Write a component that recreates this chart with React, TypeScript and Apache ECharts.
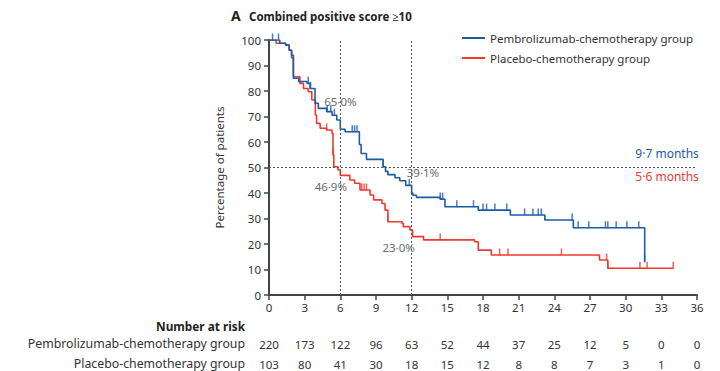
import React, { useEffect, useRef } from "react";
import * as echarts from "echarts";

const pembroName = "Pembrolizumab-chemotherapy group";
const placeboName = "Placebo-chemotherapy group";

// Kaplan-Meier step points [months, % surviving]
const pembroCurve: [number, number][] = [
  [0, 100], [0.9, 98.7], [1.4, 98], [1.7, 96], [1.9, 94], [2.05, 85], [2.5, 83.7],
  [3.2, 83], [3.45, 81], [3.87, 75.2], [4.15, 73.2], [4.85, 71.9], [5.3, 70.5],
  [5.7, 68.6], [6.0, 65], [6.4, 64], [7.6, 59], [7.75, 55.5], [8.2, 53.2],
  [9.6, 50.3], [9.8, 48.5], [10.0, 47.2], [10.6, 46], [11.0, 44.8], [11.5, 43],
  [12.0, 40.0], [12.1, 39.1], [12.4, 38.3], [14.4, 37.6], [14.8, 34.6],
  [17.6, 33.3], [20.3, 31.4], [23.2, 29.4], [25.6, 26.4], [31.6, 13]
];
const placeboCurve: [number, number][] = [
  [0, 100], [0.6, 98.7], [1.4, 98], [1.7, 96], [1.9, 93], [2.05, 85.6], [2.6, 83],
  [2.9, 81], [3.3, 79.7], [3.6, 76.5], [3.9, 70.6], [4.0, 67.3], [4.3, 65.4],
  [4.85, 64.7], [5.3, 63.4], [5.38, 55], [5.45, 50.3], [5.8, 49], [6.0, 46.9],
  [6.8, 45.1], [7.2, 43.8], [7.65, 41.2], [8.5, 39.2], [8.8, 37.3], [9.5, 35.9],
  [9.76, 33.3], [10.0, 28.7], [11.2, 28.1], [11.3, 26.8], [11.86, 25.5],
  [12.07, 22.9], [13.0, 21.6], [17.3, 20.9], [17.6, 17.6], [18.7, 15.7],
  [27.8, 13.7], [28.5, 10.5], [34.0, 10.5]
];

// censoring times (months)
const pembroCensor = [0.3, 0.8, 3.3, 3.5, 4.9, 5.2, 5.5, 7.0, 7.2, 7.4, 9.6, 11.8, 14.4, 14.6,
  15.8, 17.2, 18.0, 18.3, 19.0, 20.0, 21.5, 22.2, 22.65, 22.9, 25.5, 26.0, 26.9, 28.3, 28.5,
  29.2, 30.1, 31.1, 31.6];
const placeboCensor = [4.85, 5.4, 7.8, 8.0, 8.2, 10.0, 14.4, 19.4, 20.1, 24.6, 28.4, 28.5,
  31.2, 31.8, 34.0];

const xTicks = [0, 3, 6, 9, 12, 15, 18, 21, 24, 27, 30, 33, 36];
const pembroAtRisk = [220, 173, 122, 96, 63, 52, 44, 37, 25, 12, 5, 0, 0];
const placeboAtRisk = [103, 80, 41, 30, 18, 15, 12, 8, 8, 7, 3, 1, 0];

const landmarkMonths = [6, 12];
const medianLine = 50;
const annotations = [
  { text: "65·0%", coord: [6.0, 75.7] },
  { text: "39·1%", coord: [12.95, 48.2] },
  { text: "46·9%", coord: [5.2, 42.4] },
  { text: "23·0%", coord: [10.9, 18.8] },
];
const pembroMedian = "9·7 months";
const placeboMedian = "5·6 months";

const BLUE = "#1b5ca8";
const RED = "#ee3a30";
const TEXT = "#333";
const FONT = "Noto Sans";

function survAt(curve: [number, number][], t: number) {
  let v = curve[0][1];
  for (const [x, y] of curve) if (x <= t) v = y;
  return v;
}

export default function App() {
  const ref = useRef<HTMLDivElement>(null);
  useEffect(() => {
    const chart = echarts.init(ref.current!, null, { renderer: "svg" });
    const riskAxis = (vals: number[], offset: number) => ({
      type: "value",
      min: 0,
      max: 36,
      interval: 3,
      position: "bottom",
      offset,
      axisLine: { show: false },
      axisTick: { show: false },
      splitLine: { show: false },
      axisLabel: {
        fontFamily: FONT,
        fontSize: 11.5,
        color: TEXT,
        margin: 0,
        formatter: (v: number) => String(vals[xTicks.indexOf(v)] ?? ""),
      },
    });
    chart.setOption({
      animation: false,
      textStyle: { fontFamily: FONT },
      grid: { left: 269, right: 23, top: 40, bottom: 76, containLabel: false },
      legend: {
        left: 462,
        top: 32,
        padding: 0,
        orient: "vertical",
        icon: "rect",
        itemWidth: 23,
        itemHeight: 2,
        itemGap: 8,
        textStyle: { fontFamily: FONT, fontSize: 11.5, color: TEXT },
        data: [pembroName, placeboName],
      },
      graphic: [
        { type: "text", left: 231, top: 8, style: { text: "A", font: `bold 14px ${FONT}`, fill: "#222" } },
        { type: "text", left: 249, top: 10, style: { text: "Combined positive score ≥10", font: `bold 11.5px ${FONT}`, fill: "#222" } },
        { type: "text", right: 475, top: 320, style: { text: "Number at risk", font: `bold 11.8px ${FONT}`, fill: "#222", align: "right" } },
        { type: "text", right: 475, top: 337, style: { text: pembroName, font: `12.3px ${FONT}`, fill: TEXT, align: "right" } },
        { type: "text", right: 475, top: 357, style: { text: placeboName, font: `12.3px ${FONT}`, fill: TEXT, align: "right" } },
      ],
      xAxis: [
        {
          type: "value",
          min: 0,
          max: 36,
          interval: 3,
          axisLine: { onZero: false, lineStyle: { color: "#444", width: 2 } },
          axisTick: { show: true, length: 5, lineStyle: { color: "#444", width: 1.5 } },
          splitLine: { show: false },
          axisLabel: { fontFamily: FONT, fontSize: 11.5, color: TEXT, margin: 6 },
        },
        riskAxis(pembroAtRisk, 43),
        riskAxis(placeboAtRisk, 63),
      ],
      yAxis: {
        type: "value",
        min: 0,
        max: 100,
        interval: 10,
        name: "Percentage of patients",
        nameLocation: "middle",
        nameGap: 44,
        nameTextStyle: { fontFamily: FONT, fontSize: 11.5, color: TEXT },
        axisLine: { show: true, lineStyle: { color: "#444", width: 2 } },
        axisTick: { show: true, length: 5, lineStyle: { color: "#444", width: 1.5 } },
        splitLine: { show: false },
        axisLabel: { fontFamily: FONT, fontSize: 11.5, color: TEXT, margin: 8 },
      },
      series: [
        {
          name: pembroName,
          type: "line",
          step: "end",
          data: pembroCurve,
          showSymbol: false,
          color: BLUE,
          lineStyle: { width: 1.6, color: BLUE },
          z: 4,
          markLine: {
            silent: true,
            symbol: "none",
            label: { show: false },
            lineStyle: { color: "#555", type: [2, 2], width: 1 },
            data: [
              ...landmarkMonths.map((m) => ({ xAxis: m })),
              { yAxis: medianLine },
            ],
          },
          markPoint: {
            silent: true,
            symbolSize: 0,
            data: [
              ...annotations.map((a) => ({
                coord: a.coord,
                label: { show: true, formatter: a.text, color: "#6a6a6a", fontSize: 11.5, fontFamily: FONT },
              })),
              {
                coord: [35.9, 55.3],
                label: { show: true, formatter: pembroMedian, color: BLUE, fontSize: 12, fontFamily: FONT, align: "right", offset: [3, 0] },
              },
              {
                coord: [35.9, 46.3],
                label: { show: true, formatter: placeboMedian, color: RED, fontSize: 12, fontFamily: FONT, align: "right", offset: [3, 0] },
              },
            ],
          },
        },
        {
          name: placeboName,
          type: "line",
          step: "end",
          data: placeboCurve,
          showSymbol: false,
          color: RED,
          lineStyle: { width: 1.6, color: RED },
          z: 3,
        },
        {
          name: pembroName + " censored",
          type: "scatter",
          symbol: "rect",
          symbolSize: [1.5, 7],
          symbolOffset: [0, -3],
          itemStyle: { color: BLUE },
          data: pembroCensor.map((t) => [t, survAt(pembroCurve, t)]),
          z: 5,
        },
        {
          name: placeboName + " censored",
          type: "scatter",
          symbol: "rect",
          symbolSize: [1.5, 7],
          symbolOffset: [0, -3],
          itemStyle: { color: RED },
          data: placeboCensor.map((t) => [t, survAt(placeboCurve, t)]),
          z: 5,
        },
      ],
    });
    return () => chart.dispose();
  }, []);
  return <div ref={ref} style={{ width: 720, height: 371, position: "absolute", left: 0, top: 0 }} />;
}
